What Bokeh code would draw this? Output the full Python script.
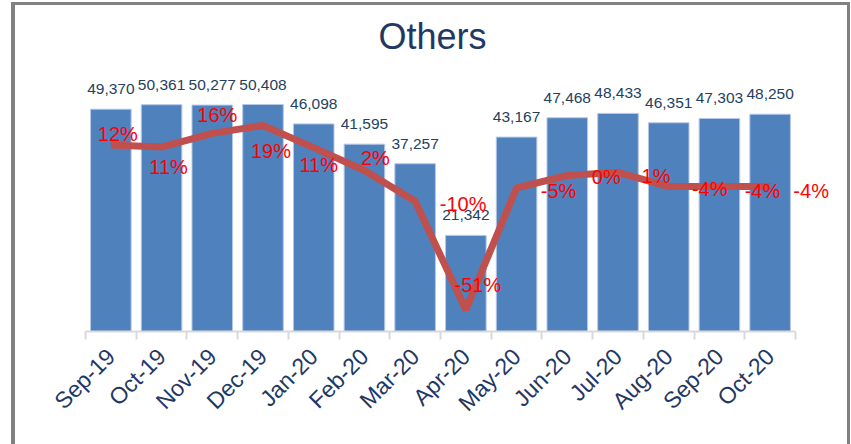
import math
from bokeh.plotting import figure
from bokeh.models import Range1d, FixedTicker, ColumnDataSource, Title
from bokeh.core.properties import value
from bokeh.embed import file_html
from bokeh.resources import INLINE

months = ["Sep-19", "Oct-19", "Nov-19", "Dec-19", "Jan-20", "Feb-20", "Mar-20",
          "Apr-20", "May-20", "Jun-20", "Jul-20", "Aug-20", "Sep-20", "Oct-20"]
volumes = [49370, 50361, 50277, 50408, 46098, 41595, 37257,
           21342, 43167, 47468, 48433, 46351, 47303, 48250]
growth_pct = [11.6, 10.8, 16.0, 19.0, 10.6, 1.9, -9.8,
              -51.0, -4.7, 0.0, 1.2, -4.2, -4.2, -4.2]
growth_labels = ["12%", "11%", "16%", "19%", "11%", "2%", "-10%",
                 "-51%", "-5%", "0%", "1%", "-4%", "-4%", "-4%"]

# label placement offsets in pixels (style, not data)
label_dx = [7, 7, 5, 8, 5, 11, 48, 12, 42, 39, 38, 41, 43, 41]
label_dy = [-11, 20, -18, 26, 17, -12, 3, -25, 3, 2, 4, 2, 4, 4]

FONT = "Liberation Sans"
NAVY = "#1F3864"
FRAME_GRAY = "#808080"

xs = list(range(len(months)))
src = ColumnDataSource(dict(
    x=xs, v=volumes, vl=[f"{v:,}" for v in volumes],
    g=growth_pct, gl=growth_labels, dx=label_dx, dy=label_dy,
))

# gray chart-area frame drawn as layered inset shadows behind a transparent canvas
frame_css = ", ".join([
    "inset 11px 0 0 0 #ffffff",
    "inset 0 2px 0 0 #ffffff",
    "inset -1px 0 0 0 #ffffff",
    f"inset 15px 0 0 0 {FRAME_GRAY}",
    f"inset 0 5px 0 0 {FRAME_GRAY}",
    f"inset -4px 0 0 0 {FRAME_GRAY}",
])

W, H = 851, 444
p = figure(width=W, height=H, output_backend="svg", toolbar_location=None,
           x_range=Range1d(-0.5, -0.5 + 760 / 50.714),
           y_range=Range1d(0, 60182),
           y_axis_location=None,
           min_border_left=85, min_border_right=6,
           min_border_top=60, min_border_bottom=113,
           styles={"box-shadow": frame_css, "background-color": "#ffffff"})
p.extra_y_ranges = {"pct": Range1d(-59.3, 43.7)}
p.outline_line_color = None
p.grid.visible = False
p.background_fill_color = None
p.border_fill_color = None

p.add_layout(Title(text="Others", align="left", offset=293, standoff=7,
                   text_font_size="36px", text_font=FONT,
                   text_font_style="normal", text_color=NAVY), "above")

p.vbar(x="x", top="v", width=0.8, source=src,
       fill_color="#4F81BD", line_color="#B4C7E7", line_width=1)

p.text(x="x", y="v", text="vl", source=src, y_offset=-20,
       text_align="center", text_baseline="middle",
       text_font=value(FONT), text_font_size="15.5px", text_color="#243F60")

p.line(x="x", y="g", source=src, y_range_name="pct",
       line_color="#C0504D", line_width=7)

p.text(x="x", y="g", text="gl", source=src, y_range_name="pct",
       x_offset="dx", y_offset="dy",
       text_align="center", text_baseline="middle",
       text_font=value(FONT), text_font_size="20px", text_color="#FF0000")

ax = p.xaxis[0]
ax.ticker = FixedTicker(ticks=xs, minor_ticks=[i - 0.5 for i in range(len(months) + 1)])
ax.bounds = (-0.5, len(months) - 0.5)
ax.major_label_overrides = {i: m for i, m in enumerate(months)}
ax.major_label_orientation = math.pi / 4
ax.major_label_text_font = FONT
ax.major_label_text_font_size = "23px"
ax.major_label_text_color = NAVY
ax.major_label_standoff = 13
ax.major_tick_line_color = None
ax.minor_tick_in = 0
ax.minor_tick_out = 8
ax.minor_tick_line_color = "#D9D9D9"
ax.minor_tick_line_width = 2
ax.axis_line_color = "#D9D9D9"
ax.axis_line_width = 2

open("out.html", "w").write(file_html(p, INLINE))
